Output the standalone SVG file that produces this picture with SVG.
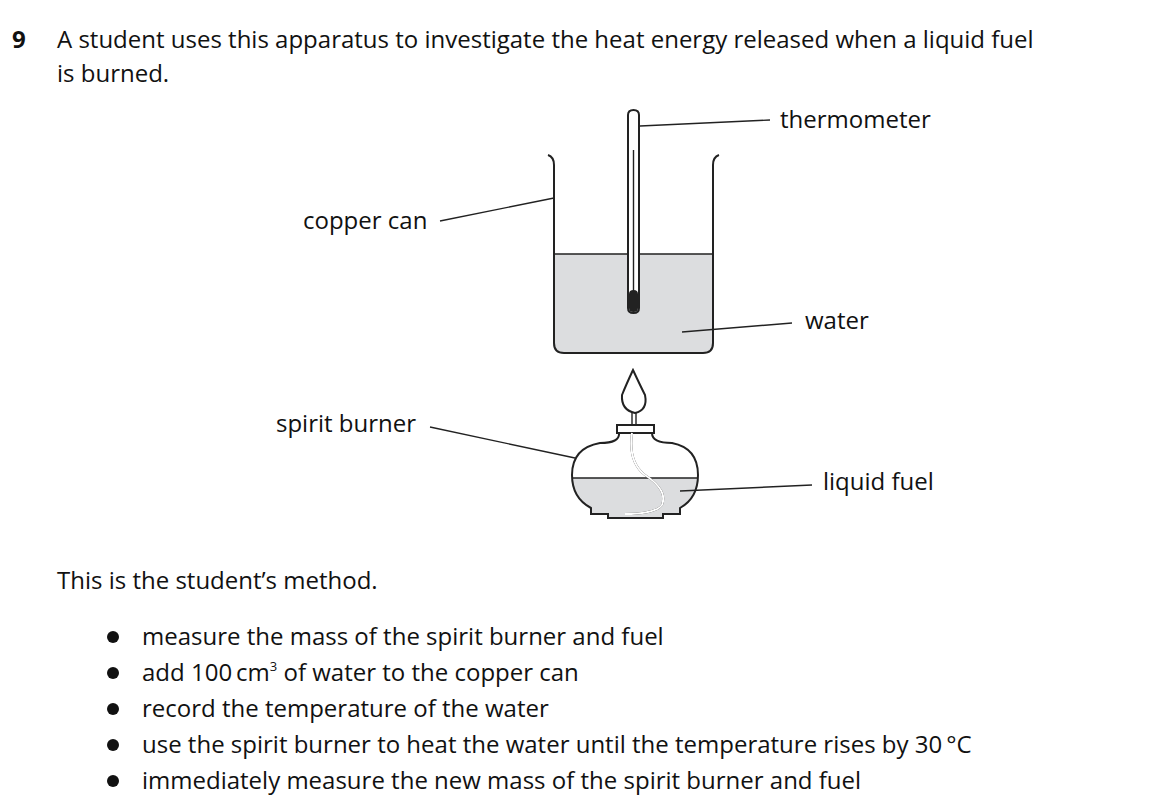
<svg xmlns="http://www.w3.org/2000/svg" width="1168" height="804" viewBox="0 0 1168 804">
<style>
text{font-family:"Open Sans","Liberation Sans",sans-serif;font-size:24px;fill:#111}
.l{stroke:#222;stroke-width:1.4;fill:none}
.o{stroke:#222;stroke-width:2;fill:none}
.w{fill:#dcdddf}
</style>
<rect width="1168" height="804" fill="#fff"/>
<text x="12" y="48" style="font-weight:bold">9</text>
<text x="57" y="48">A student uses this apparatus to investigate the heat energy released when a liquid fuel</text>
<text x="57" y="82">is burned.</text>
<g id="can">
<path class="w" d="M554 254 H628 V292 A5 5 0 0 0 639 292 V254 H713 V343 Q713 353 703 353 H564 Q554 353 554 343 Z"/>
<path class="o" d="M548 155 Q554 157 554 165 V343 Q554 353 564 353 H703 Q713 353 713 343 V165 Q713 157 719 155"/>
<path class="l" d="M554 254 H628 M639 254 H713"/>
</g>
<g id="thermometer">
<path class="o" d="M628 115 Q628 110 633.5 110 Q639 110 639 115 V308 Q639 313 633.5 313 Q628 313 628 308 Z" fill="#fff"/>
<path d="M629 294 Q629 290 633.5 290 Q638 290 638 294 V308 Q638 312 633.5 312 Q629 312 629 308 Z" fill="#222"/>
<line x1="633.5" y1="150" x2="633.5" y2="292" stroke="#222" stroke-width="1.4"/>
</g>
<g id="burner">
<path class="o" d="M633 370 Q640 385 645 395 Q648 410 635 413 Q621 410 622 395 Q626 385 633 370 Z"/>
<path class="l" d="M632 413 V424 M636 413 V424"/>
<path class="w" d="M572 478 H697 Q697 498 680 508 V514 H663 V518 H608 V514 H591 V508 Q572 498 572 478 Z"/>
<path class="o" d="M617 425 H654 V433 H617 Z"/>
<path class="o" d="M619 433 Q620 443 600 443 Q572 448 572 475 Q572 498 591 508 V514 H608 V518 H663 V514 H680 V508 Q698 498 698 475 Q698 448 672 443 Q652 443 652 433"/>
<path class="l" d="M572 478 H697"/>
<path class="o" d="M632 433 Q628 462 645 475 Q668 490 662 505 Q655 514 625 514" stroke-width="4.5"/>
<path d="M632 433 Q628 462 645 475 Q668 490 662 505 Q655 514 625 514" stroke="#fff" stroke-width="2" fill="none"/>
</g>
<g id="connectors" class="l">
<line x1="640" y1="126" x2="770" y2="120"/>
<line x1="440" y1="221" x2="554" y2="198"/>
<line x1="682" y1="332" x2="792" y2="323"/>
<line x1="430" y1="427" x2="575" y2="458"/>
<line x1="680" y1="491" x2="812" y2="485"/>
</g>
<text x="780" y="128">thermometer</text>
<text x="303" y="229">copper can</text>
<text x="805" y="329">water</text>
<text x="276" y="432">spirit burner</text>
<text x="823" y="490">liquid fuel</text>
<text x="57" y="589">This is the student’s method.</text>
<g font-size="22">
<circle cx="113" cy="637" r="6" fill="#111"/><text x="142" y="645">measure the mass of the spirit burner and fuel</text>
<circle cx="113" cy="673" r="6" fill="#111"/><text x="142" y="681">add 100<tspan dx="4">cm</tspan><tspan dy="-10" font-size="13">3</tspan><tspan dy="10"> of water to the copper can</tspan></text>
<circle cx="113" cy="709" r="6" fill="#111"/><text x="142" y="717">record the temperature of the water</text>
<circle cx="113" cy="745" r="6" fill="#111"/><text x="142" y="753">use the spirit burner to heat the water until the temperature rises by 30<tspan dx="4">°C</tspan></text>
<circle cx="113" cy="781" r="6" fill="#111"/><text x="142" y="789">immediately measure the new mass of the spirit burner and fuel</text>
</g>
</svg>
